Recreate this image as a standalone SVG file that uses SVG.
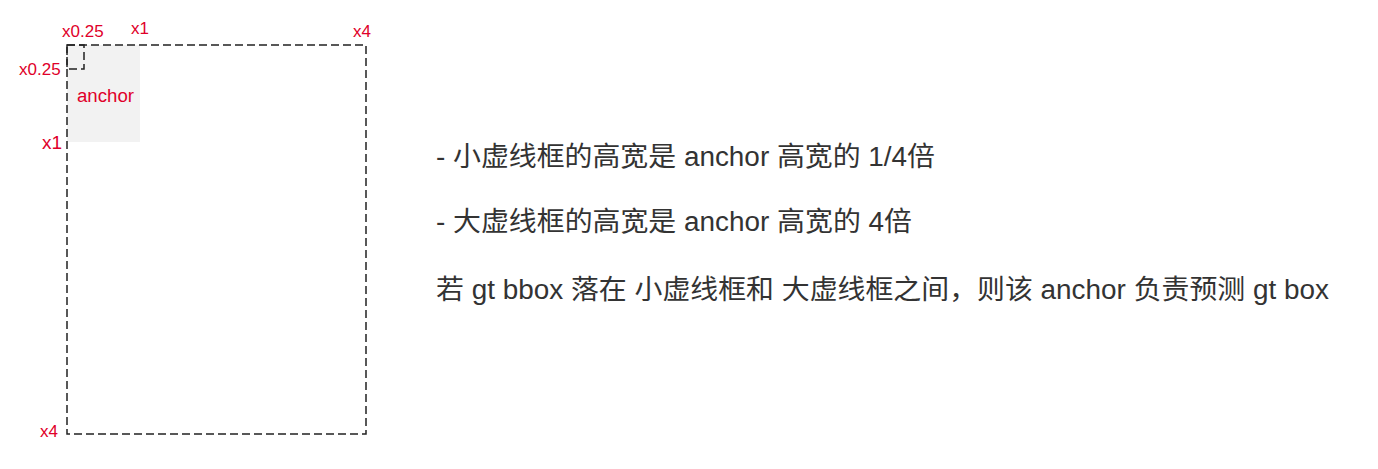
<svg xmlns="http://www.w3.org/2000/svg" width="1378" height="469" viewBox="0 0 1378 469">
<style>
.dash{fill:none;stroke:#222;stroke-width:1.5;stroke-dasharray:8 4}
.lbl{fill:#e0002a;font-family:"Liberation Sans","Noto Sans CJK SC",sans-serif;font-size:17px}
.txt{fill:#333;font-family:"Liberation Sans","Noto Sans CJK SC",sans-serif;font-size:27px}
</style>
<rect width="1378" height="469" fill="#fff"/>
<g id="anchor">
<rect x="67" y="45" width="73" height="97" fill="#f2f2f2"/>
<text class="lbl" x="77" y="102" style="font-size:18px" textLength="57" lengthAdjust="spacingAndGlyphs">anchor</text>
</g>
<g id="small-box">
<rect class="dash" x="67" y="45" width="17" height="24"/>
</g>
<g id="big-box">
<rect class="dash" x="67" y="45" width="299" height="389"/>
</g>
<g id="labels">
<text class="lbl" x="62" y="37">x0.25</text>
<text class="lbl" x="131" y="34">x1</text>
<text class="lbl" x="353" y="37">x4</text>
<text class="lbl" x="19" y="75">x0.25</text>
<text class="lbl" x="42" y="149" style="font-size:19px">x1</text>
<text class="lbl" x="40" y="437">x4</text>
</g>
<g id="notes">
<text class="txt" x="436" y="166" textLength="499" lengthAdjust="spacingAndGlyphs">- 小虚线框的高宽是 anchor 高宽的 1/4倍</text>
<text class="txt" x="436" y="231" textLength="476" lengthAdjust="spacingAndGlyphs">- 大虚线框的高宽是 anchor 高宽的 4倍</text>
<text class="txt" x="436" y="299" textLength="893" lengthAdjust="spacingAndGlyphs">若 gt bbox 落在 小虚线框和 大虚线框之间，则该 anchor 负责预测 gt box</text>
</g>
</svg>
